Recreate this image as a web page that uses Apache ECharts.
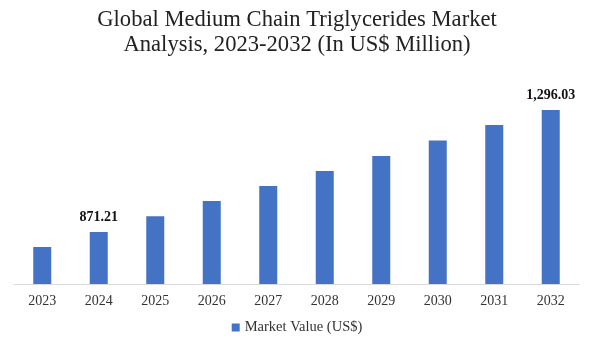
<!DOCTYPE html>
<html><head><meta charset="utf-8">
<script src="https://cdn.jsdelivr.net/npm/echarts@6/dist/echarts.min.js"></script>
<style>html,body{margin:0;padding:0;background:#fff;}#c{width:594px;height:349px;}</style>
</head><body><div id="c"></div>
<script>
const categories = ['2023','2024','2025','2026','2027','2028','2029','2030','2031','2032'];
const values = [819, 871.21, 926, 979, 1031, 1084, 1136, 1190, 1244, 1296.03];
const labelText = ['', '871.21', '', '', '', '', '', '', '', '1,296.03'];
const seriesName = 'Market Value (US$)';
const titleText = 'Global Medium Chain Triglycerides Market\nAnalysis, 2023-2032 (In US$ Million)';
const serif = '"Liberation Serif", "DejaVu Serif", serif';

const chart = echarts.init(document.getElementById('c'));
chart.setOption({
  animation: false,
  title: {
    text: titleText, left: 'center', top: 3,
    textStyle: { fontFamily: serif, fontSize: 22.6, fontWeight: 'normal', color: '#222', lineHeight: 25 }
  },
  legend: {
    bottom: 9, left: 'center', itemWidth: 8, itemHeight: 8, icon: 'rect', itemGap: 4,
    textStyle: { fontFamily: serif, fontSize: 14.5, color: '#333' }
  },
  grid: { left: 14, right: 15, top: 100, bottom: 65 },
  xAxis: {
    type: 'category', data: categories,
    axisLine: { lineStyle: { color: '#d9d9d9' } },
    axisTick: { show: false },
    axisLabel: { fontFamily: serif, fontSize: 14, color: '#333', margin: 10 }
  },
  yAxis: { type: 'value', min: 690, max: 1331, show: false, splitLine: { show: false } },
  series: [{
    name: seriesName, type: 'bar', data: values, barWidth: 18,
    itemStyle: { color: '#4472C4' },
    label: {
      show: true, position: 'top', distance: 8,
      formatter: p => labelText[p.dataIndex],
      fontFamily: serif, fontSize: 14, fontWeight: 'bold', color: '#111'
    }
  }]
});
</script></body></html>
